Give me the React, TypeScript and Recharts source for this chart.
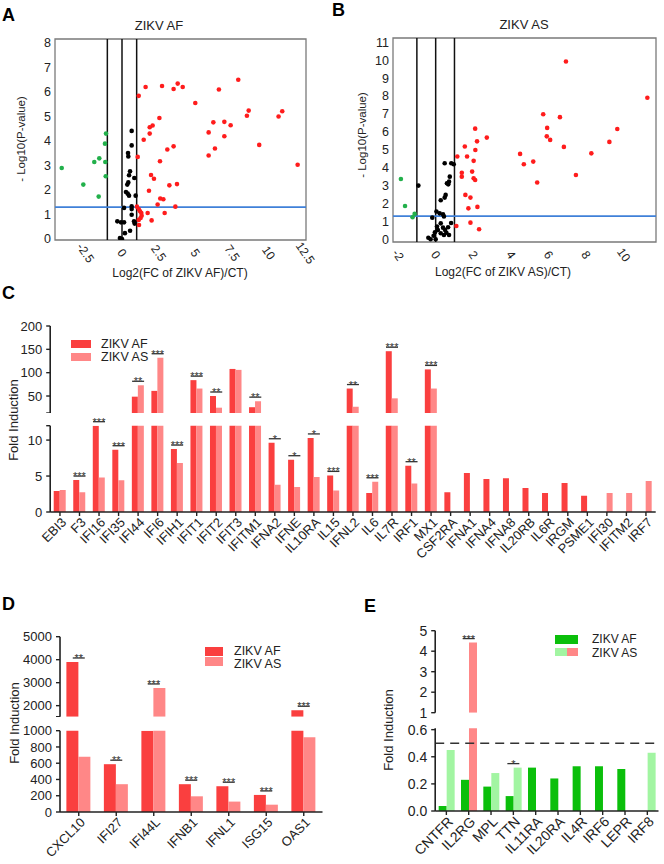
import React from 'react';
import {
  ScatterChart,
  Scatter,
  XAxis,
  YAxis,
  ReferenceLine,
  ReferenceArea,
  ComposedChart,
  Bar,
  Line,
  Cell,
} from 'recharts';

const FONT = 'Arial, "Liberation Sans", Helvetica, sans-serif';

/* ── Volcano A: ZIKV AF ── [log2FC, -log10 p] */
const afDown: [number, number][] = [
  [-4.11, 2.9], [-2.64, 2.22], [-1.89, 3.14], [-1.55, 3.29], [-1.59, 1.73],
  [-1.14, 3.14], [-1.16, 3.89], [-1.09, 4.3], [-1.11, 2.56],
];
const afNs: [number, number][] = [
  [0.66, 4.41], [0.66, 3.82], [0.41, 3.51], [0.43, 3.37], [0.55, 2.76], [0.48, 2.6],
  [0.84, 2.49], [0.43, 2.31], [0.36, 2.22], [0.27, 1.92], [0.39, 1.85], [0.48, 1.77],
  [0.93, 1.77], [0.66, 1.33], [0.14, 1.27], [0.66, 1.22], [0.66, 0.99], [-0.32, 0.72],
  [-0.07, 0.68], [0.14, 0.68], [0.82, 0.72], [0.86, 0.63], [0.2, 0.24], [0.55, 0.34],
  [-0.14, 0.04], [0, 0],
];
const afUp: [number, number][] = [
  [7.93, 6.5], [3.8, 6.34], [4.14, 6.2], [3.52, 6.12], [2.73, 6.24], [1.61, 6.2],
  [6.61, 6.1], [1.14, 5.84], [5.0, 5.55], [8.64, 5.24], [8.52, 5.03], [10.93, 5.21],
  [10.68, 5.0], [2.55, 4.94], [6.23, 4.76], [6.98, 4.78], [7.41, 4.64], [2.09, 4.63],
  [1.89, 4.56], [1.89, 4.3], [5.91, 4.35], [6.98, 4.19], [1.48, 4.05], [3.52, 3.78],
  [9.36, 3.84], [6.34, 3.69], [3.09, 3.65], [5.91, 3.41], [1.07, 3.35], [2.59, 3.17],
  [11.98, 3.03], [1.98, 2.61], [2.18, 2.46], [3.75, 2.24], [3.23, 2.19], [1.84, 1.97],
  [2.61, 1.65], [2.82, 1.62], [2.43, 1.41], [3.64, 1.32], [1.02, 1.32], [1.14, 1.22],
  [1.23, 1.13], [1.32, 1.06], [1.34, 0.95], [1.75, 1.06], [2.91, 1.06], [1.27, 0.86],
  [1.14, 0.78], [2.02, 0.76], [1.16, 0.57],
];

/* ── Volcano B: ZIKV AS ── */
const asDown: [number, number][] = [
  [-1.85, 3.37], [-1.63, 1.86], [-1.12, 1.42], [-1.23, 1.23],
];
const asNs: [number, number][] = [
  [-0.92, 3.0], [0.48, 4.25], [0.83, 4.25], [0.96, 4.19], [0.75, 3.5], [0.71, 3.22],
  [0.6, 3.13], [0.67, 3.07], [0.53, 2.48], [0.48, 2.33], [0.27, 2.18], [0.04, 1.55],
  [0.21, 1.45], [0.39, 1.4], [0.44, 1.27], [-0.18, 1.21], [0.82, 0.91], [0.27, 0.89],
  [0.07, 0.71], [0.39, 0.65], [0.66, 0.67], [0.5, 0.52], [0.12, 0.52], [0.57, 0.37],
  [0.27, 0.34], [0.44, 0.24], [-0.04, 0.39], [-0.11, 0.2], [-0.39, 0.09], [-0.27, 0],
  [0, 0], [0.71, 0.24],
];
const asUp: [number, number][] = [
  [6.93, 9.93], [11.26, 7.9], [5.72, 6.98], [6.61, 6.82], [2.1, 6.18], [5.93, 6.22],
  [9.66, 6.16], [2.72, 5.68], [5.91, 5.75], [6.09, 5.55], [2.2, 5.47], [9.24, 5.44],
  [1.55, 5.18], [6.82, 5.16], [2.11, 4.99], [4.49, 4.77], [8.28, 4.8], [1.15, 4.62],
  [1.67, 4.62], [2.02, 4.38], [5.19, 4.34], [4.69, 4.19], [1.39, 3.72], [1.94, 3.78],
  [1.39, 3.5], [2.02, 3.41], [2.1, 3.31], [7.46, 3.59], [5.4, 3.17], [1.58, 2.48],
  [1.85, 2.33], [1.74, 1.73], [2.22, 1.81], [1.1, 0.74], [1.85, 0.93], [2.31, 0.56],
];

const aXTicks = [-2.5, 0, 2.5, 5, 7.5, 10, 12.5];
const aYTicks = [0, 1, 2, 3, 4, 5, 6, 7, 8];
const bXTicks = [-2, 0, 2, 4, 6, 8, 10];
const bYTicks = [0, 1, 2, 3, 4, 5, 6, 7, 8, 9, 10, 11];
const foldCut = [-1, 0, 1];
const pCut = 1.3;

/* ── Panel C ── */
const cGenes = [
  'EBI3', 'F3', 'IFI16', 'IFI35', 'IFI44', 'IFI6', 'IFIH1', 'IFIT1', 'IFIT2', 'IFIT3',
  'IFITM1', 'IFNA2', 'IFNE', 'IL10RA', 'IL15', 'IFNL2', 'IL6', 'IL7R', 'IRF1', 'MX1',
  'CSF2RA', 'IFNA1', 'IFNA4', 'IFNA8', 'IL20RB', 'IL6R', 'IRGM', 'PSME1', 'IFI30', 'IFITM2', 'IRF7',
];
const cAF = [
  2.92, 4.44, 12, 8.66, 48.6, 61, 8.75, 84, 50, 108,
  26, 9.63, 7.27, 10.3, 5.09, 66, 2.64, 146, 6.44, 107,
  2.73, 5.42, 4.58, 4.68, 3.33, 2.64, 4.03, 2.27, null, null, null,
];
const cAS = [
  3.06, 2.73, 4.81, 4.4, 73, 132, 6.8, 66, 25, 106,
  39, 3.8, 3.47, 4.86, 3.0, 27, 4.2, 45, 3.98, 66,
  null, null, null, null, null, null, null, null, 2.64, 2.64, 4.3,
];
const cSig = [
  '', '***', '***', '***', '**', '***', '***', '***', '**', '',
  '**', '*', '*', '*', '***', '**', '***', '***', '**', '***',
  '', '', '', '', '', '', '', '', '', '', '',
];

/* ── Panel D ── */
const dGenes = ['CXCL10', 'IFI27', 'IFI44L', 'IFNB1', 'IFNL1', 'ISG15', 'OAS1'];
const dAF = [3900, 588, 1000, 342, 317, 210, 1800];
const dAS = [679, 342, 2770, 193, 128, 90, 918];
const dSig = ['**', '**', '***', '***', '***', '***', '***'];

/* ── Panel E ── */
const eGenes = ['CNTFR', 'IL2RG', 'MPL', 'TTN', 'IL11RA', 'IL20RA', 'IL4R', 'IRF6', 'LEPR', 'IRF8'];
const eAF = [0.037, 0.23, 0.18, 0.11, 0.32, 0.24, 0.33, 0.33, 0.31, null];
const eAS = [0.45, 4.42, 0.28, 0.32, null, null, null, null, null, 0.43];
const eSig = ['', '***', '', '*', '', '', '', '', '', ''];

const RED = '#fa3f3f';
const PINK = '#ff8787';
const GREEN = '#0bbf0b';
const LIGHT_GREEN = '#a2f5a2';

// rows for one segment of a broken axis: values at or below lo are dropped
const buildRows = (genes: string[], af: (number | null)[], as: (number | null)[], sig: string[], lo: number, hi: number) =>
  genes.map((gene, i) => {
    const a = af[i];
    const b = as[i];
    const level = Math.max(a ?? 0, b ?? 0);
    return {
      gene,
      af: a != null && a > lo ? a : null,
      as: b != null && b > lo ? b : null,
      stars: sig[i],
      sig: sig[i] && level > lo && level <= hi ? level : null,
    };
  });

const renderSig = (p: any) => {
  const { cx, cy, payload, index } = p;
  if (cy == null || isNaN(cy) || !payload || !payload.stars) return <g key={`s${index}`} />;
  const ly = cy - 4;
  return (
    <g key={`s${index}`}>
      <line x1={cx - 6} x2={cx + 6} y1={ly} y2={ly} stroke="#333" strokeWidth={1.3} />
      <text x={cx} y={ly + 4} textAnchor="middle" fontSize={11} fill="#333" fontFamily={FONT}>
        {payload.stars}
      </text>
    </g>
  );
};

const SlantTick = (p: any) => {
  const { x, y, payload } = p;
  const ty = y + 5;
  return (
    <text x={x} y={ty} transform={`rotate(55 ${x} ${ty})`} textAnchor="middle" dominantBaseline="central"
      fontSize={12} fill="#222" fontFamily={FONT}>
      {payload.value}
    </text>
  );
};

const GeneTick = (p: any) => {
  const { x, y, payload, fontSize } = p;
  const tx = x + 4;
  const ty = y + 2;
  return (
    <text x={tx} y={ty} transform={`rotate(-45 ${tx} ${ty})`} textAnchor="end" dominantBaseline="central"
      fontSize={fontSize} fill="#222" fontFamily={FONT}>
      {payload.value}
    </text>
  );
};

const dotShape = (fill: string) => (p: any) => <circle cx={p.cx} cy={p.cy} r={2.3} fill={fill} />;

type VolcanoProps = {
  left: number; top: number; width: number; height: number;
  plotTop: number; yWidth: number; xHeight: number; marginRight: number;
  xDomain: [number, number]; yDomain: [number, number];
  xTicks: number[]; yTicks: number[];
  down: [number, number][]; ns: [number, number][]; up: [number, number][];
};

const toPts = (arr: [number, number][]) => arr.map(([x, y]) => ({ x, y }));

const Volcano = (v: VolcanoProps) => (
  <div style={{ position: 'absolute', left: v.left, top: v.top }}>
    <ScatterChart width={v.width} height={v.height}
      margin={{ top: v.plotTop, right: v.marginRight, bottom: 0, left: 0 }}>
      <XAxis type="number" dataKey="x" domain={v.xDomain} ticks={v.xTicks} allowDataOverflow interval={0}
        axisLine={false} tickLine={false} height={v.xHeight} tick={<SlantTick />} />
      <YAxis type="number" dataKey="y" domain={v.yDomain} ticks={v.yTicks} allowDataOverflow interval={0}
        axisLine={false} tickLine={false} width={v.yWidth} tickMargin={-2}
        tick={{ fontSize: 12.5, fill: '#222', fontFamily: FONT }} />
      <ReferenceArea x1={v.xDomain[0]} x2={v.xDomain[1]} y1={v.yDomain[0]} y2={v.yDomain[1]}
        fill="none" stroke="#7a7a7a" strokeWidth={1.3} />
      {foldCut.map((c) => (
        <ReferenceLine key={c} x={c} stroke="#111" strokeWidth={1.5} />
      ))}
      <ReferenceLine y={pCut} stroke="#3f80d8" strokeWidth={1.8} />
      <Scatter data={toPts(v.down)} shape={dotShape('#22b04b')} isAnimationActive={false} />
      <Scatter data={toPts(v.ns)} shape={dotShape('#000')} isAnimationActive={false} />
      <Scatter data={toPts(v.up)} shape={dotShape('#ff1c1c')} isAnimationActive={false} />
    </ScatterChart>
  </div>
);

type SegProps = {
  rows: any[]; left: number; top: number; width: number; height: number;
  plotTop: number; marginRight: number; marginBottom?: number; yWidth: number;
  domain: [number, number]; ticks: number[]; fmt: (v: number) => string;
  gap: string; showX: boolean; xHeight: number; fontSize: number;
  asFill: (row: any) => string; afFill: string; refY?: number;
};

const Segment = (s: SegProps) => (
  <div style={{ position: 'absolute', left: s.left, top: s.top }}>
    <ComposedChart width={s.width} height={s.height} data={s.rows} barCategoryGap={s.gap} barGap={0}
      margin={{ top: s.plotTop, right: s.marginRight, bottom: s.marginBottom ?? 0, left: 0 }}>
      <XAxis dataKey="gene" hide={!s.showX} height={s.showX ? s.xHeight : 0} interval={0}
        tick={<GeneTick fontSize={s.fontSize} />} tickSize={4}
        tickLine={{ stroke: '#222', strokeWidth: 1.4 }} axisLine={{ stroke: '#222', strokeWidth: 1.6 }} />
      <YAxis yAxisId="v" type="number" domain={s.domain} ticks={s.ticks} allowDataOverflow interval={0}
        width={s.yWidth} tickFormatter={s.fmt} tickSize={4} tickMargin={4}
        tick={{ fontSize: s.fontSize, fill: '#222', fontFamily: FONT }}
        tickLine={{ stroke: '#222', strokeWidth: 1.4 }} axisLine={{ stroke: '#222', strokeWidth: 1.6 }} />
      <YAxis yAxisId="s" orientation="right" type="number" domain={s.domain} width={0} hide />
      {s.refY != null && (
        <ReferenceLine yAxisId="v" y={s.refY} stroke="#333" strokeWidth={1.6} strokeDasharray="9 6" />
      )}
      <Bar yAxisId="v" dataKey="af" fill={s.afFill} isAnimationActive={false} />
      <Bar yAxisId="v" dataKey="as" isAnimationActive={false}>
        {s.rows.map((r, i) => (
          <Cell key={i} fill={s.asFill(r)} />
        ))}
      </Bar>
      <Line yAxisId="s" dataKey="sig" stroke="none" dot={renderSig} activeDot={false}
        isAnimationActive={false} />
    </ComposedChart>
  </div>
);

const txt = (left: number, top: number, text: string, size: number, extra: React.CSSProperties = {}) => (
  <div style={{
    position: 'absolute', left, top, fontSize: size, fontFamily: FONT, color: '#222',
    whiteSpace: 'nowrap', lineHeight: 1, ...extra,
  }}>
    {text}
  </div>
);

const vtxt = (cx: number, cy: number, text: string, size: number) => (
  <div style={{
    position: 'absolute', left: cx, top: cy, fontSize: size, fontFamily: FONT, color: '#222',
    whiteSpace: 'nowrap', lineHeight: 1, transform: 'translate(-50%, -50%) rotate(-90deg)',
  }}>
    {text}
  </div>
);

const ctxt = (cx: number, cy: number, text: string, size: number) => (
  <div style={{
    position: 'absolute', left: cx, top: cy, fontSize: size, fontFamily: FONT, color: '#222',
    whiteSpace: 'nowrap', lineHeight: 1, transform: 'translate(-50%, -50%)',
  }}>
    {text}
  </div>
);

const swatch = (left: number, top: number, w: number, h: number, bg: string) => (
  <div style={{ position: 'absolute', left, top, width: w, height: h, background: bg }} />
);

const App: React.FC = () => {
  const cTop = buildRows(cGenes, cAF, cAS, cSig, 13.6, 200);
  const cBot = buildRows(cGenes, cAF, cAS, cSig, -1, 12);
  const dTop = buildRows(dGenes, dAF, dAS, dSig, 1520, 5000);
  const dBot = buildRows(dGenes, dAF, dAS, dSig, -1, 1000);
  const eTop = buildRows(eGenes, eAF, eAS, eSig, 1, 5);
  const eBot = buildRows(eGenes, eAF, eAS, eSig, -1, 0.61);
  const pinkFill = () => PINK;
  const eAsFill = (r: any) => (r.as != null && r.as > 1 ? PINK : LIGHT_GREEN);

  return (
    <div style={{ position: 'absolute', left: 0, top: 0, width: 664, height: 864, background: '#fff', overflow: 'hidden' }}>
      {/* A */}
      <Volcano left={0} top={0} width={330} height={292} plotTop={39} yWidth={55} xHeight={52} marginRight={24}
        xDomain={[-4.57, 12.55]} yDomain={[-0.04, 8.16]} xTicks={aXTicks} yTicks={aYTicks}
        down={afDown} ns={afNs} up={afUp} />
      {/* B */}
      <Volcano left={330} top={0} width={334} height={294} plotTop={38} yWidth={63} xHeight={52} marginRight={8}
        xDomain={[-2.27, 11.72]} yDomain={[-0.15, 11.24]} xTicks={bXTicks} yTicks={bYTicks}
        down={asDown} ns={asNs} up={asUp} />

      {/* C */}
      <Segment rows={cTop} left={0} top={300} width={664} height={113} plotTop={26} marginRight={8.3} yWidth={50.2}
        domain={[13.6, 200]} ticks={[13.6, 50, 100, 150, 200]} fmt={(v) => (v < 20 ? '' : String(v))}
        gap="18%" showX={false} xHeight={0} fontSize={13} afFill={RED} asFill={pinkFill} />
      <Segment rows={cBot} left={0} top={415} width={664} height={159} plotTop={10.7} marginRight={8.3} yWidth={50.2}
        domain={[0, 12]} ticks={[0, 5, 10, 12]} fmt={(v) => (v === 12 ? '' : String(v))}
        gap="18%" showX xHeight={62} fontSize={13} afFill={RED} asFill={pinkFill} />

      {/* D */}
      <Segment rows={dTop} left={0} top={620} width={332} height={96.7} plotTop={16.7} marginRight={9.5} yWidth={60}
        domain={[1520, 5000]} ticks={[1520, 2000, 3000, 4000, 5000]} fmt={(v) => (v < 1600 ? '' : String(v))}
        gap="17%" showX={false} xHeight={0} fontSize={13} afFill={RED} asFill={pinkFill} />
      <Segment rows={dBot} left={0} top={719} width={332} height={145} plotTop={11.7} marginRight={9.5} yWidth={60}
        domain={[0, 1000]} ticks={[0, 200, 400, 600, 800, 1000]} fmt={(v) => String(v)}
        gap="17%" showX xHeight={52} fontSize={13} afFill={RED} asFill={pinkFill} />

      {/* E */}
      <Segment rows={eTop} left={380} top={615} width={284} height={106.7} plotTop={15.7} marginRight={5.5}
        marginBottom={9} yWidth={55.2}
        domain={[1, 5]} ticks={[1, 2, 3, 4, 5]} fmt={(v) => String(v)}
        gap="15.5%" showX={false} xHeight={0} fontSize={14} afFill={GREEN} asFill={eAsFill} />
      <Segment rows={eBot} left={380} top={718} width={284} height={145} plotTop={10.3} marginRight={5.5} yWidth={55.2}
        domain={[0, 0.61]} ticks={[0, 0.2, 0.4, 0.6]} fmt={(v) => v.toFixed(1)}
        gap="15.5%" showX xHeight={52} fontSize={14} afFill={GREEN} asFill={eAsFill} refY={0.5} />

      {/* panel letters */}
      {txt(2, 6, 'A', 18, { fontWeight: 700, color: '#000' })}
      {txt(332, 1, 'B', 18, { fontWeight: 700, color: '#000' })}
      {txt(2, 284, 'C', 18, { fontWeight: 700, color: '#000' })}
      {txt(2, 595, 'D', 18, { fontWeight: 700, color: '#000' })}
      {txt(364, 597, 'E', 18, { fontWeight: 700, color: '#000' })}

      {/* volcano titles and axis labels */}
      {ctxt(159, 25, 'ZIKV AF', 13)}
      {ctxt(524, 24, 'ZIKV AS', 13)}
      {ctxt(180, 273, 'Log2(FC of ZIKV AF)/CT)', 12)}
      {ctxt(503, 272, 'Log2(FC of ZIKV AS)/CT)', 12)}
      {vtxt(22, 139, '- Log10(P-value)', 11.5)}
      {vtxt(363, 135, '- Log10(P-value)', 11.5)}

      {/* C labels + legend */}
      {vtxt(13, 420, 'Fold Induction', 13)}
      {swatch(71, 340, 20, 8, RED)}
      {swatch(71, 353, 20, 8, PINK)}
      {txt(101, 337.7, 'ZIKV AF', 12.5)}
      {txt(101, 350.9, 'ZIKV AS', 12.5)}

      {/* D labels + legend */}
      {vtxt(14, 723, 'Fold Induction', 13)}
      {swatch(205, 647, 18, 8.5, RED)}
      {swatch(205, 657, 18, 8.5, PINK)}
      {txt(234, 645.3, 'ZIKV AF', 12.5)}
      {txt(234, 657.8, 'ZIKV AS', 12.5)}

      {/* E labels + legend */}
      {vtxt(388, 730, 'Fold Induction', 13)}
      {swatch(555, 635, 23, 8.5, GREEN)}
      {swatch(555, 647.5, 11.5, 8.5, LIGHT_GREEN)}
      {swatch(566.5, 647.5, 11.5, 8.5, PINK)}
      {txt(592, 633.3, 'ZIKV AF', 12)}
      {txt(592, 646.5, 'ZIKV AS', 12)}
    </div>
  );
};

export default App;
